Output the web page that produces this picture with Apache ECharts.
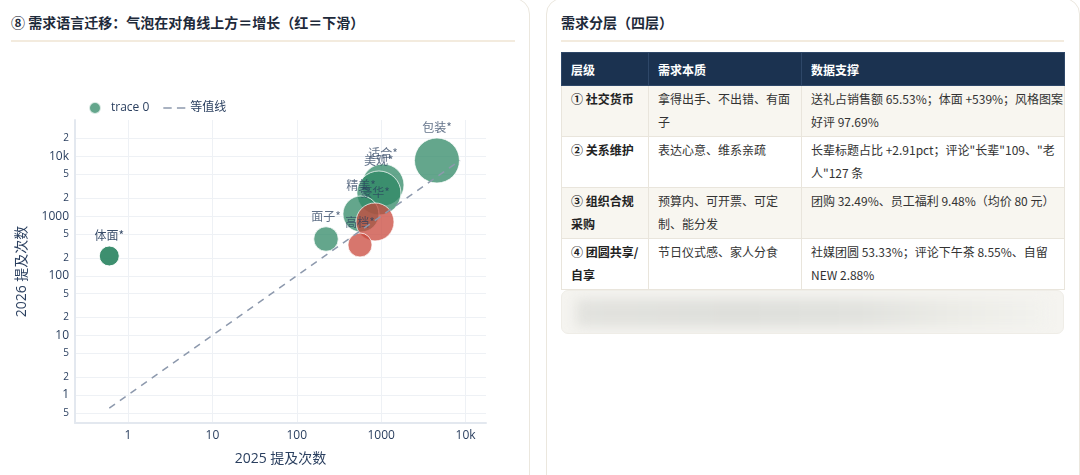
<!DOCTYPE html>
<html><head><meta charset="utf-8">
<script src="https://cdn.jsdelivr.net/npm/echarts@6/dist/echarts.min.js"></script>
<style>
body{margin:0;width:1080px;height:475px;overflow:hidden;background:#fff;font-family:"Noto Sans CJK SC",sans-serif;position:relative}
.panel{position:absolute;border:1px solid #ebe7de;border-radius:16px;background:#fff;box-sizing:border-box}
.ptitle{position:absolute;font-size:14px;font-weight:bold;color:#1e2a3a;line-height:20px;font-family:"Noto Sans CJK SC",sans-serif}
.pline{position:absolute;height:2px;background:#f3ebde}
#chart{position:absolute;left:0;top:0;width:530px;height:475px}
table{position:absolute;left:561px;top:52px;width:503px;border-collapse:collapse;font-size:12px;color:#333;table-layout:fixed}
th{background:#1b3250;color:#fff;text-align:left;font-weight:bold;height:32px;padding:0 9px;border:1px solid #2e4768;font-family:"Noto Sans CJK SC",sans-serif}
td{vertical-align:top;padding:2px 2px 3px 9px;line-height:22.5px;border:1px solid #e9e5dc;font-family:"Noto Sans CJK SC",sans-serif;white-space:nowrap;overflow:hidden}
tr.alt td{background:#f8f6f0}
td.b{font-weight:bold;color:#222}
.blur{position:absolute;left:561px;top:290px;width:503px;height:44px;background:#f5f4f0;border-radius:7px;overflow:hidden;border:1px solid #efede7;box-sizing:border-box}
.blurin{position:absolute;left:14px;top:8px;width:470px;height:28px;background:linear-gradient(90deg,#e2e2de,#dedfdb 35%,#e1e2de 60%,#ebebe6 80%,#f2f2ee);filter:blur(6px)}
</style></head>
<body>
<div class="panel" style="left:-20px;top:-2px;width:550px;height:520px"></div>
<div class="panel" style="left:546px;top:-2px;width:534px;height:520px"></div>
<div class="ptitle" style="left:11px;top:12px">⑧ 需求语言迁移：气泡在对角线上方＝增长（红＝下滑）</div>
<div class="pline" style="left:11px;top:40px;width:504px"></div>
<div class="ptitle" style="left:561px;top:12px">需求分层（四层）</div>
<div class="pline" style="left:561px;top:40px;width:503px"></div>
<div id="chart"></div>
<table>
<colgroup><col style="width:87px"><col style="width:153px"><col style="width:263px"></colgroup>
<tr><th>层级</th><th>需求本质</th><th>数据支撑</th></tr>
<tr class="alt"><td class="b">① 社交货币</td><td>拿得出手、不出错、有面<br>子</td><td>送礼占销售额 65.53%；体面 +539%；风格图案<br>好评 97.69%</td></tr>
<tr><td class="b">② 关系维护</td><td>表达心意、维系亲疏</td><td>长辈标题占比 +2.91pct；评论"长辈"109、"老<br>人"127 条</td></tr>
<tr class="alt"><td class="b">③ 组织合规<br>采购</td><td>预算内、可开票、可定<br>制、能分发</td><td>团购 32.49%、员工福利 9.48%（均价 80 元）</td></tr>
<tr><td class="b">④ 团圆共享/<br>自享</td><td>节日仪式感、家人分食</td><td>社媒团圆 53.33%；评论下午茶 8.55%、自留<br>NEW 2.88%</td></tr>
</table>
<div class="blur"><div class="blurin"></div></div>
<script>
const labels = ['包装*','适合*','美观*','精美*','豪华*','高档*','面子*','体面*'];
const mentions2025 = [4580, 1050, 940, 576, 845, 561, 222, 0.6];
const mentions2026 = [8600, 3340, 2450, 1090, 800, 329, 414, 215];
const bubbleWeight = [506, 441, 484, 324, 361, 144, 150, 100];
const xTicks = [1, 10, 100, 1000, 10000];
const yTicks = [0.5, 1, 2, 5, 10, 20, 50, 100, 200, 500, 1000, 2000, 5000, 10000, 20000];

const GREEN = '#2e8764', RED = '#c9463a', TXT = '#2a3f5f', DIAG = '#8d99ad';
const FONT = '"Open Sans","Noto Sans CJK SC",sans-serif';
const strongItems = {'体面*': 0.93};

function tickText(v) {
  const lg = Math.log10(v);
  if (Math.abs(lg - Math.round(lg)) < 1e-9) {
    return '{mj|' + (v >= 10000 ? (v / 1000) + 'k' : String(v)) + '}';
  }
  const e = Math.floor(lg + 1e-9);
  return '{mn|' + Math.round(v / Math.pow(10, e)) + '}';
}

const all = mentions2025.concat(mentions2026);
const lo = Math.min.apply(null, all), hi = Math.max.apply(null, all);

const chart = echarts.init(document.getElementById('chart'), null, {renderer: 'canvas'});
chart.setOption({
  animation: false,
  textStyle: {fontFamily: FONT},
  legend: {
    left: 83, top: 96, itemWidth: 22, itemHeight: 12, itemGap: 14,
    textStyle: {color: TXT, fontSize: 12, fontFamily: FONT},
    data: [
      {name: 'trace 0', icon: 'circle'},
      {name: '等值线', icon: 'path://M0,0h8v1.6h-8z M13,0h8v1.6h-8z', itemStyle: {color: DIAG}}
    ]
  },
  grid: {left: 75, top: 120, right: 44, bottom: 52},
  xAxis: {
    type: 'log', logBase: 10, min: 0.2355, max: 17460,
    name: '2025 提及次数', nameLocation: 'middle', nameGap: 29,
    nameTextStyle: {color: TXT, fontSize: 14, fontFamily: FONT},
    axisLine: {show: true, lineStyle: {color: '#e3e8ef', width: 2}},
    axisTick: {show: false, customValues: xTicks},
    axisLabel: {customValues: xTicks, formatter: tickText, margin: 7, color: TXT,
      rich: {mj: {fontSize: 12, color: TXT, fontFamily: FONT}, mn: {fontSize: 10, color: TXT, fontFamily: FONT}}},
    splitLine: {show: true, lineStyle: {color: '#eef1f5', width: 1}}
  },
  yAxis: {
    type: 'log', logBase: 10, min: 0.339, max: 41100,
    name: '2026 提及次数', nameLocation: 'middle', nameGap: 46,
    nameTextStyle: {color: TXT, fontSize: 14, fontFamily: FONT},
    axisLine: {show: true, lineStyle: {color: '#e3e8ef', width: 2}},
    axisTick: {show: false, customValues: yTicks},
    axisLabel: {customValues: yTicks, formatter: tickText, margin: 6, color: TXT,
      rich: {mj: {fontSize: 12, color: TXT, fontFamily: FONT}, mn: {fontSize: 10, color: TXT, fontFamily: FONT}}},
    splitLine: {show: true, lineStyle: {color: '#eef1f5', width: 1}}
  },
  series: [
    {
      type: 'scatter', name: 'trace 0',
      data: labels.map((n, i) => ({
        name: n,
        value: [mentions2025[i], mentions2026[i], bubbleWeight[i]],
        itemStyle: {color: mentions2026[i] >= mentions2025[i] ? GREEN : RED,
                    opacity: strongItems[n] || 0.74}
      })),
      symbolSize: v => Math.sqrt(v[2]) * 2,
      itemStyle: {color: GREEN, opacity: 0.74, borderColor: '#fff', borderWidth: 1},
      label: {show: true, position: 'top', distance: 4, formatter: '{b}', color: TXT, fontSize: 12,
              fontFamily: '"Noto Sans CJK SC",sans-serif'},
      emphasis: {disabled: true}, z: 2
    },
    {
      type: 'line', name: '等值线',
      data: [[lo, lo], [hi, hi]],
      symbol: 'none', showSymbol: false,
      lineStyle: {color: DIAG, width: 1.5, type: [7, 6]},
      itemStyle: {color: DIAG},
      emphasis: {disabled: true}, z: 3
    }
  ]
});
</script>
</body></html>
